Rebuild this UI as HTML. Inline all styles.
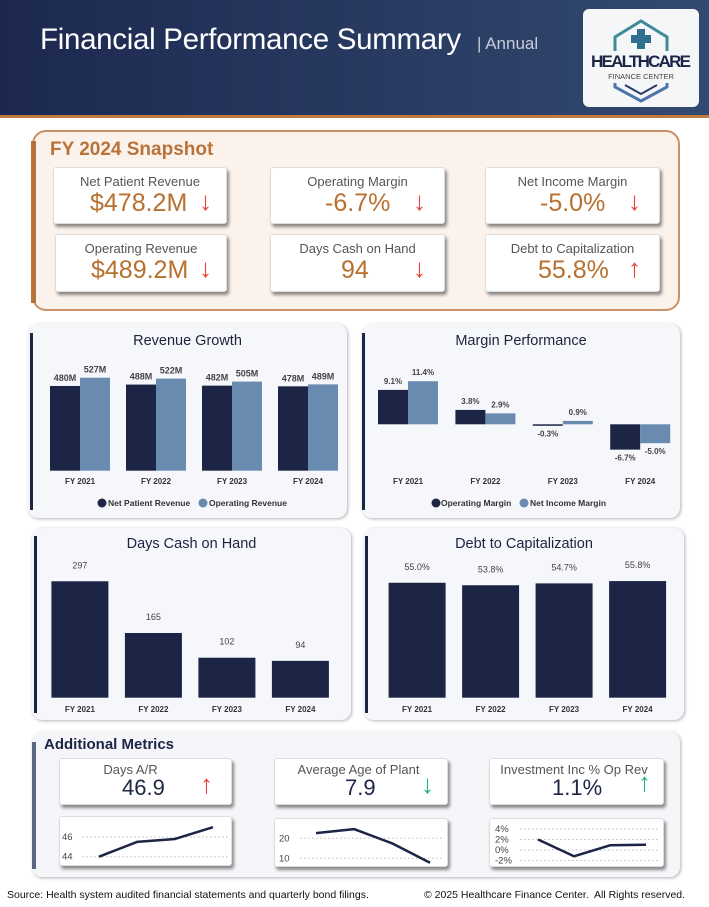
<!DOCTYPE html>
<html><head><meta charset="utf-8">
<style>
*{box-sizing:border-box;margin:0;padding:0}
body{width:709px;height:907px;position:relative;background:#fff;font-family:"Liberation Sans",sans-serif;overflow:hidden}
.abs{position:absolute}
.card{position:absolute;background:#fff;border-radius:3px;box-shadow:2px 3px 3px rgba(0,0,0,.45);border:1px solid #ddd}
.card .lbl{position:absolute;left:0;right:0;text-align:center;color:#555;font-size:13px;top:6px}
.card .val{position:absolute;color:#b8702e;font-size:25px;top:21px}
.arrow{position:absolute;font-size:26px;top:18px;color:#e8413c}
.panel{position:absolute;background:#f6f7fa;border-radius:10px;box-shadow:1px 1px 3px rgba(0,0,0,.3)}
.ptitle{position:absolute;left:0;right:0;text-align:center;font-size:14.5px;color:#1c2340}
svg text{font-family:"Liberation Sans",sans-serif}
</style></head><body>
<div class="abs" style="left:0;top:0;width:709px;height:115px;background:linear-gradient(90deg,#1c2850,#334a70)"></div>
<div class="abs" style="left:0;top:115px;width:709px;height:3px;background:#c0793f"></div>
<div class="abs" style="left:40px;top:23px;font-size:29.5px;color:#fff;letter-spacing:-0.3px">Financial Performance Summary</div>
<div class="abs" style="left:477px;top:34px;font-size:17px;color:#c8ccd6">| Annual</div>
<div class="abs" style="left:583px;top:9px;width:116px;height:98px;background:#f4f6f8;border-radius:6px">
<svg width="116" height="98">
<path d="M32 42 V28 L58 12 L84 28 V42" fill="none" stroke="#3f8a9a" stroke-width="3"/>
<rect x="54" y="20" width="8" height="20" fill="#2f6f8f"/><rect x="48" y="26" width="20" height="8" fill="#2f6f8f"/>
<text x="58" y="58" text-anchor="middle" font-size="17" font-weight="bold" fill="#1c2546" textLength="100">HEALTHCARE</text>
<text x="58" y="70" text-anchor="middle" font-size="7.5" fill="#444">FINANCE CENTER</text>
<path d="M32 74 V78 L58 92 L84 78 V74" fill="none" stroke="#4d74a8" stroke-width="3"/>
<path d="M42 76 L58 85 L74 76" fill="none" stroke="#2b3b6a" stroke-width="2"/>
</svg></div>

<div class="abs" style="left:32px;top:130px;width:648px;height:181px;background:#fcf2ec;border:2px solid #c99068;border-radius:14px"></div>
<div class="abs" style="left:31px;top:141px;width:5px;height:162px;background:#b8733a"></div>
<div class="abs" style="left:50px;top:139px;font-size:19px;font-weight:bold;color:#b8733a">FY 2024 Snapshot</div>

<div class="card" style="left:53px;top:167px;width:174px;height:57px"><div class="lbl">Net Patient Revenue</div><div class="val" style="left:36px">$478.2M</div><div class="arrow" style="left:145px">↓</div></div>
<div class="card" style="left:270px;top:167px;width:175px;height:57px"><div class="lbl">Operating Margin</div><div class="val" style="left:54px">-6.7%</div><div class="arrow" style="left:142px">↓</div></div>
<div class="card" style="left:485px;top:167px;width:175px;height:57px"><div class="lbl">Net Income Margin</div><div class="val" style="left:54px">-5.0%</div><div class="arrow" style="left:142px">↓</div></div>
<div class="card" style="left:55px;top:234px;width:172px;height:58px"><div class="lbl">Operating Revenue</div><div class="val" style="left:35px">$489.2M</div><div class="arrow" style="left:143px">↓</div></div>
<div class="card" style="left:270px;top:234px;width:175px;height:58px"><div class="lbl">Days Cash on Hand</div><div class="val" style="left:70px">94</div><div class="arrow" style="left:142px">↓</div></div>
<div class="card" style="left:485px;top:234px;width:175px;height:58px"><div class="lbl">Debt to Capitalization</div><div class="val" style="left:52px">55.8%</div><div class="arrow" style="left:142px">↑</div></div>

<div class="panel" style="left:28px;top:324px;width:319px;height:194px"><div class="ptitle" style="top:9px">Revenue Growth</div></div>
<div class="panel" style="left:362px;top:324px;width:318px;height:194px"><div class="ptitle" style="top:9px">Margin Performance</div></div>
<div class="panel" style="left:32px;top:528px;width:319px;height:192px"><div class="ptitle" style="top:8px">Days Cash on Hand</div></div>
<div class="panel" style="left:364px;top:528px;width:320px;height:192px"><div class="ptitle" style="top:8px">Debt to Capitalization</div></div>
<div class="abs" style="left:30px;top:333px;width:3px;height:177px;background:#1c2546"></div>
<div class="abs" style="left:362px;top:333px;width:3px;height:177px;background:#1c2546"></div>
<div class="abs" style="left:34px;top:536px;width:3px;height:177px;background:#1c2546"></div>
<div class="abs" style="left:365px;top:536px;width:3px;height:177px;background:#1c2546"></div>

<div class="panel" style="left:32px;top:732px;width:648px;height:145px;background:#f5f6f9"></div>
<div class="abs" style="left:32px;top:742px;width:4px;height:127px;background:#5a6782"></div>
<div class="abs" style="left:44px;top:736px;font-size:15px;font-weight:bold;color:#1c2546">Additional Metrics</div>
<div class="card" style="left:59px;top:758px;width:173px;height:47px"><div class="lbl" style="top:3px;left:-30px">Days A/R</div><div class="val" style="left:62px;top:16px;color:#1c2546;font-size:22px">46.9</div><div class="arrow" style="left:140px;top:10px">↑</div></div>
<div class="card" style="left:274px;top:758px;width:174px;height:47px"><div class="lbl" style="top:3px;left:-5px">Average Age of Plant</div><div class="val" style="left:70px;top:16px;color:#1c2546;font-size:22px">7.9</div><div class="arrow" style="left:146px;top:10px;color:#1fb27a">↓</div></div>
<div class="card" style="left:489px;top:758px;width:175px;height:47px"><div class="lbl" style="top:3px;left:-5px">Investment Inc % Op Rev</div><div class="val" style="left:62px;top:16px;color:#1c2546;font-size:22px">1.1%</div><div class="arrow" style="left:148px;top:8px;color:#1fb27a">↑</div></div>
<div class="card" style="left:59px;top:816px;width:173px;height:50px"></div>
<div class="card" style="left:274px;top:818px;width:174px;height:49px"></div>
<div class="card" style="left:489px;top:818px;width:175px;height:49px"></div>

<div class="abs" style="left:7px;top:889px;font-size:10.5px;color:#111">Source: Health system audited financial statements and quarterly bond filings.</div>
<div class="abs" style="left:424px;top:889px;font-size:10.5px;color:#111">© 2025 Healthcare Finance Center.&nbsp; All Rights reserved.</div>

<svg id="charts" class="abs" style="left:0;top:0" width="709" height="907"></svg>
<script>
const years = ["FY 2021","FY 2022","FY 2023","FY 2024"];
const netPatientRev = [480,488,482,478];
const operatingRev = [527,522,505,489];
const operatingMargin = [9.1,3.8,-0.3,-6.7];
const netIncomeMargin = [11.4,2.9,0.9,-5.0];
const daysCash = [297,165,102,94];
const debtToCap = [55.0,53.8,54.7,55.8];
const daysAR = [44.0,45.5,45.8,47.0];
const agePlant = [22.6,24.6,17.5,7.8];
const investInc = [2.0,-1.2,0.9,1.0];
const arTicks = [44,46];
const ageTicks = [10,20];
const invTicks = [-2,0,2,4];

const NS="http://www.w3.org/2000/svg";
const svg=document.getElementById('charts');
const DARK="#1c2546", LIGHT="#6a8bb0";
function mk(tag,attrs,txt){const e=document.createElementNS(NS,tag);for(const k in attrs)e.setAttribute(k,attrs[k]);if(txt!==undefined)e.textContent=txt;svg.appendChild(e);return e;}
function txt(x,y,s,size,fill,w){return mk('text',{x:x,y:y,'text-anchor':'middle','font-size':size,fill:fill,'font-weight':w||'bold'},s);}

// Revenue growth
(function(){
 const x0=50,step=76,bw=30,base=470.7,k=0.1765;
 const y=v=>base-v*k;
 years.forEach((yr,i)=>{
  const x=x0+i*step;
  let r=mk('rect',{x:x,y:y(netPatientRev[i]),width:bw,height:netPatientRev[i]*k,fill:DARK});
  
  r=mk('rect',{x:x+bw,y:y(operatingRev[i]),width:bw,height:operatingRev[i]*k,fill:LIGHT});
  
  txt(x+bw/2,y(netPatientRev[i])-5,netPatientRev[i]+'M',9,'#444');
  txt(x+bw*1.5,y(operatingRev[i])-5,operatingRev[i]+'M',9,'#444');
  const t=txt(x+bw,484,yr,8,'#333');
 });
 mk('circle',{cx:102,cy:503,r:4.5,fill:DARK});mk('text',{x:108,y:506,'font-size':8.5,fill:'#333','font-weight':'bold'},'Net Patient Revenue');
 mk('circle',{cx:203,cy:503,r:4.5,fill:LIGHT});mk('text',{x:209,y:506,'font-size':8.5,fill:'#333','font-weight':'bold'},'Operating Revenue');
})();
// Margin performance
(function(){
 const x0=378,step=77.4,bw=30,zero=424.3,k=3.78;
 const y=v=>zero-v*k;
 function bar(v,x,c,name){const r=mk('rect',{x:x,y:Math.min(y(v),zero),width:bw,height:Math.max(Math.abs(v*k),1.5),fill:c});
  
  const ly=v>=0?y(v)-6:y(v)+11;txt(x+bw/2,ly,v.toFixed(1)+'%',8,'#444');}
 years.forEach((yr,i)=>{const x=x0+i*step;
  bar(operatingMargin[i],x,DARK,'bar-operating-margin');bar(netIncomeMargin[i],x+bw,LIGHT,'bar-net-income-margin');
  const t=txt(x+bw,484,yr,8,'#333');});
 mk('circle',{cx:436,cy:503,r:4.5,fill:DARK});mk('text',{x:441,y:506,'font-size':8.5,fill:'#333','font-weight':'bold'},'Operating Margin');
 mk('circle',{cx:524,cy:503,r:4.5,fill:LIGHT});mk('text',{x:530,y:506,'font-size':8.5,fill:'#333','font-weight':'bold'},'Net Income Margin');
})();
// Days cash & debt
function single(data,x0,fmt,k,name){const base=697.7,step=73.5,bw=57;
 data.forEach((v,i)=>{const x=x0+i*step;const r=mk('rect',{x:x,y:base-v*k,width:bw,height:v*k,fill:DARK});
  
  txt(x+bw/2,base-v*k-13,fmt(v),9,'#444','normal');
  const t=txt(x+bw/2,712,years[i],8,'#333');});}
single(daysCash,51.4,v=>String(v),0.392,'bar-days-cash');
single(debtToCap,388.6,v=>v.toFixed(1)+'%',2.09,'bar-debt-to-cap');
// Sparklines
function spark(data,ticks,xs,gx0,gx1,ty,k,ref,tx,fmt,name){
 ticks.forEach(t=>{const yy=ty(t);mk('line',{x1:gx0,x2:gx1,y1:yy,y2:yy,stroke:'#bbb','stroke-dasharray':'1.5,2.5'});
  mk('text',{x:tx,y:yy+3,'font-size':9.5,fill:'#444'},fmt(t));});
 const pts=data.map((v,i)=>(xs[0]+i*xs[1])+','+ty(v)).join(' ');
 const p=mk('polyline',{points:pts,fill:'none',stroke:DARK,'stroke-width':2.5,'stroke-linejoin':'round'});
 }
spark(daysAR,arTicks,[99,38],82,228,v=>856.7-(v-44)*9.85,0,0,62,v=>String(v),'days-ar-line');
spark(agePlant,ageTicks,[316,38],300,444,v=>858.3-(v-10)*2.0,0,0,279,v=>String(v),'age-plant-line');
spark(investInc,invTicks,[538,36],520,660,v=>850-v*5.25,0,0,495,v=>v+'%','investment-line');
</script>
</body></html>
